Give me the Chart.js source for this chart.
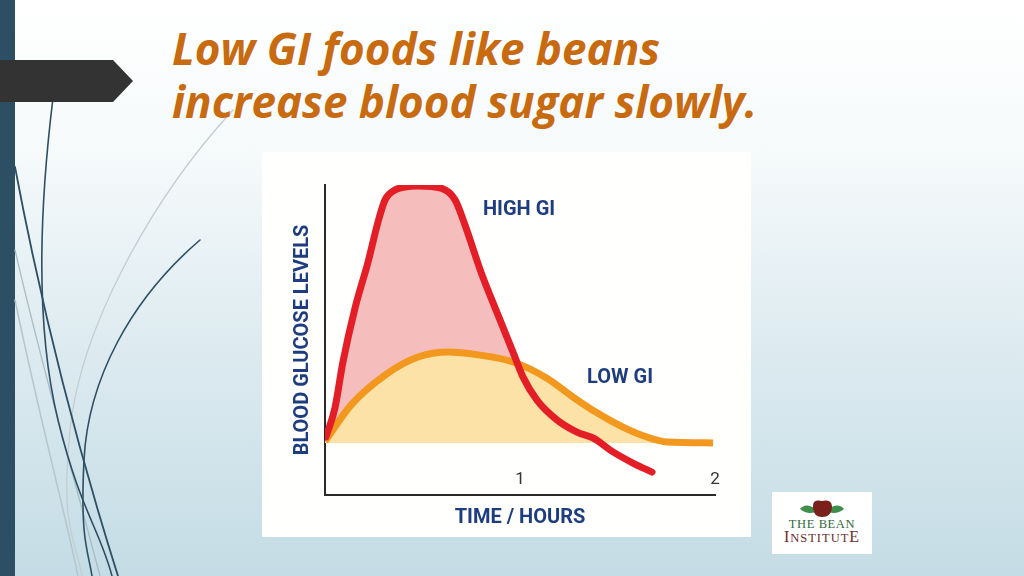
<!DOCTYPE html>
<html>
<head>
<meta charset="utf-8">
<script src="https://cdn.jsdelivr.net/npm/chart.js@4/dist/chart.umd.min.js"></script>
<style>
  html, body { margin: 0; padding: 0; }
  body {
    width: 1024px; height: 576px; position: relative; overflow: hidden;
    background: linear-gradient(to bottom, #ffffff 0px, #f6fafb 150px, #dfecf1 330px, #c4dce5 576px);
    font-family: "Open Sans", sans-serif;
  }
  #bar { position: absolute; left: 0; top: 0; width: 15px; height: 576px; background: #2d4f63; }
  #deco { position: absolute; left: 0; top: 0; }
  #title {
    position: absolute; left: 172px; top: 22px; margin: 0;
    font: italic 700 44px/53px "Open Sans", sans-serif; color: #c86a10;
    white-space: nowrap;
  }
  #panel { position: absolute; left: 262px; top: 152px; width: 489px; height: 385px; background: #fffffd; }
  #chart { position: absolute; left: 262px; top: 152px; }
  #logo {
    position: absolute; left: 772px; top: 492px; width: 100px; height: 62px; background: #ffffff;
    text-align: center; font-family: "Liberation Serif", "DejaVu Serif", serif;
  }
  #logo .t1 { position: absolute; left: 0; width: 100px; top: 25px; font-size: 12.5px; line-height: 14px; color: #2f6b3a; letter-spacing: 0.6px; }
  #logo .t2 { position: absolute; left: 0; width: 100px; top: 37px; font-size: 12.5px; line-height: 16px; color: #6e2b2b; letter-spacing: 1px; }
  #logo .t2 span { font-size: 16px; }
</style>
</head>
<body>
<div id="bar"></div>
<svg id="deco" width="300" height="576" viewBox="0 0 300 576">
  <g fill="none" stroke-linecap="round">
    <path d="M 233 110 C 150 200, 80 330, 70 430 S 76 540, 82 576" stroke="#c3cdd1" stroke-width="1.3"/>
    <path d="M 15 300 C 40 420, 62 500, 78 576" stroke="#b6c6cc" stroke-width="1.5"/>
    <path d="M 15 250 C 45 380, 75 480, 100 576" stroke="#a9bcc4" stroke-width="1.3"/>
    <path d="M 53 98 C 38 220, 36 330, 58 420 S 100 530, 112 576" stroke="#2d4f63" stroke-width="1.6"/>
    <path d="M 200 240 C 130 300, 88 380, 84 460 S 88 550, 92 576" stroke="#2d4f63" stroke-width="1.6"/>
    <path d="M 15 167 C 40 300, 75 440, 118 576" stroke="#2d4f63" stroke-width="1.8"/>
  </g>
  <polygon points="0,60 113,60 133,81 113,102 0,102" fill="#333333"/>
</svg>
<div id="title">Low GI foods like beans<br>increase blood sugar slowly.</div>
<div id="panel"></div>
<canvas id="chart" width="489" height="385"></canvas>
<div id="logo">
  <svg width="100" height="26" style="position:absolute;left:0;top:0">
    <path d="M 28 17 Q 34 9 47 19 Q 36 24 28 17 Z" fill="#3f8f4a"/>
    <path d="M 72 17 Q 66 9 53 19 Q 64 24 72 17 Z" fill="#3f8f4a"/>
    <path d="M 41 14 Q 41 7 50 9 Q 59 7 60 14 Q 60 25 50 25 Q 41 25 41 14 Z" fill="#7a1f1a"/>
  </svg>
  <div class="t1">THE BEAN</div>
  <div class="t2"><span>I</span>NSTITUT<span>E</span></div>
</div>
<script>
// ---- data ----
const highGiTime  = [0.005, 0.051, 0.092, 0.154, 0.221, 0.272, 0.308, 0.359, 0.477, 0.595, 0.667, 0.718, 0.800, 0.887, 0.964, 1.015, 1.087, 1.190, 1.292, 1.374, 1.477, 1.579, 1.677];
const highGiLevel = [18.7, 28.1, 42.9, 60.3, 75.2, 88.1, 95.2, 98.4, 99.7, 99.0, 95.2, 87.1, 71.9, 58.1, 46.1, 38.1, 30.6, 24.2, 20.3, 18.4, 13.9, 10.3, 7.4];
const lowGiTime   = [0.0, 0.133, 0.308, 0.477, 0.631, 0.785, 0.964, 1.138, 1.272, 1.395, 1.528, 1.651, 1.754, 1.99];
const lowGiLevel  = [17.3, 29.0, 38.7, 44.5, 46.1, 45.2, 42.9, 37.7, 31.6, 26.5, 21.9, 18.7, 17.1, 16.8];
const baselineLevel = 16.8;
const xTickValues = [1, 2];
const curveLabels = ['HIGH GI', 'LOW GI'];
const curveLabelTime = [0.995, 1.513];
const curveLabelLevel = [91.9, 37.7];
const xAxisTitle = 'TIME / HOURS';
const yAxisTitle = 'BLOOD GLUCOSE LEVELS';

const pts = (xs, ys) => xs.map((x, i) => ({ x: x, y: ys[i] }));
const navy = '#1d3d80';

const labelPlugin = {
  id: 'curveLabels',
  afterDatasetsDraw(chart) {
    const ctx = chart.ctx, xs = chart.scales.x, ys = chart.scales.y;
    ctx.save();
    ctx.font = '700 20px Roboto';
    ctx.fillStyle = navy;
    ctx.textAlign = 'center';
    ctx.textBaseline = 'middle';
    curveLabels.forEach((t, i) => {
      ctx.fillText(t, xs.getPixelForValue(curveLabelTime[i]), ys.getPixelForValue(curveLabelLevel[i]));
    });
    ctx.restore();
  }
};

const common = { pointRadius: 0, pointHoverRadius: 0, cubicInterpolationMode: 'monotone', showLine: true };

new Chart(document.getElementById('chart'), {
  type: 'scatter',
  data: {
    datasets: [
      Object.assign({ label: 'High GI fill', data: pts(highGiTime, highGiLevel), borderWidth: 0, borderColor: 'transparent',
        fill: { target: { value: baselineLevel }, above: '#f6bdbd', below: 'rgba(0,0,0,0)' }, order: 4 }, common),
      Object.assign({ label: 'Low GI fill', data: pts(lowGiTime, lowGiLevel), borderWidth: 0, borderColor: 'transparent',
        fill: { target: { value: baselineLevel }, above: '#fce2a6', below: 'rgba(0,0,0,0)' }, order: 3 }, common),
      Object.assign({ label: 'Low GI', data: pts(lowGiTime, lowGiLevel), borderColor: '#f3981f', borderWidth: 7,
        borderCapStyle: 'butt', fill: false, order: 2 }, common),
      Object.assign({ label: 'High GI', data: pts(highGiTime, highGiLevel), borderColor: '#e31e26', borderWidth: 7,
        borderCapStyle: 'round', fill: false, order: 1 }, common)
    ]
  },
  options: {
    responsive: false,
    animation: false,
    devicePixelRatio: 1,
    layout: { padding: { left: 0, right: 36, top: 33, bottom: 0 } },
    plugins: { legend: { display: false }, tooltip: { enabled: false }, title: { display: false } },
    scales: {
      x: {
        type: 'linear', min: 0, max: 2,
        afterBuildTicks: s => { s.ticks = xTickValues.map(v => ({ value: v })); },
        grid: { display: false, drawTicks: false },
        border: { display: true, color: '#2a2a2a', width: 2 },
        ticks: { mirror: true, padding: 5, color: '#333333', font: { family: 'Roboto', size: 17, lineHeight: 1.2 } },
        title: { display: true, text: xAxisTitle, color: navy, font: { family: 'Roboto', size: 20, weight: '700', lineHeight: 1.2 },
          padding: { top: 1, bottom: 7 } }
      },
      y: {
        min: 0, max: 100,
        grid: { display: false, drawTicks: false },
        border: { display: true, color: '#2a2a2a', width: 2 },
        ticks: { display: false },
        title: { display: true, text: yAxisTitle, color: navy, font: { family: 'Roboto', size: 20, weight: '700', lineHeight: 1.2 },
          padding: { top: 29, bottom: 10 } }
      }
    }
  },
  plugins: [labelPlugin]
});
</script>
</body>
</html>
